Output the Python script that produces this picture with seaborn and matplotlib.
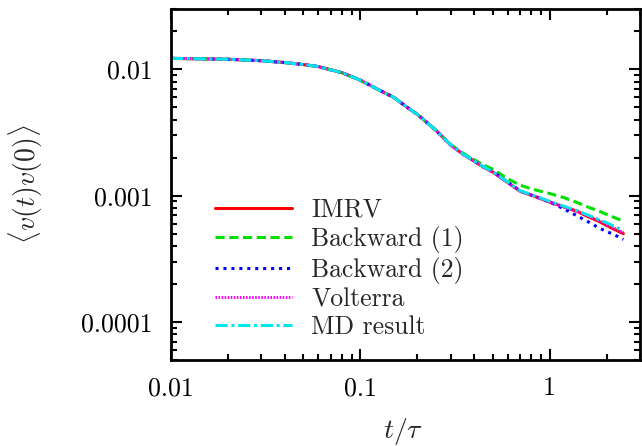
import os
import numpy as np
import pandas as pd
import matplotlib
matplotlib.use("Agg")
import matplotlib.pyplot as plt
import matplotlib.ticker as mticker
from matplotlib.font_manager import FontProperties
import seaborn as sns

# ---- data ----
t = [0.01, 0.015, 0.02, 0.03, 0.04, 0.05, 0.06, 0.08, 0.1, 0.12, 0.15, 0.18,
     0.2, 0.25, 0.3, 0.35, 0.4, 0.45, 0.5, 0.6, 0.7, 0.8, 1.0, 1.2, 1.4, 1.6,
     1.8, 2.0, 2.2, 2.45]
md = [0.0122, 0.0121, 0.0120, 0.0117, 0.0113, 0.0109, 0.0105, 0.0094, 0.0082,
      0.0071, 0.0060, 0.0049, 0.0044, 0.0033, 0.00252, 0.00213, 0.00188,
      0.00168, 0.00155, 0.00128, 0.00109, 0.00102, 0.00090, 0.00082, 0.00076,
      0.00070, 0.00065, 0.00061, 0.00057, 0.00053]
imrv = [0.0122, 0.0121, 0.0120, 0.0117, 0.0113, 0.0109, 0.0105, 0.0094, 0.0082,
        0.0071, 0.0060, 0.0049, 0.0044, 0.0033, 0.00251, 0.00212, 0.00187,
        0.00167, 0.00154, 0.00127, 0.00108, 0.00101, 0.00089, 0.00081, 0.00075,
        0.00068, 0.00063, 0.00058, 0.00054, 0.00050]
backward1 = [0.0122, 0.0121, 0.0120, 0.0117, 0.0113, 0.0109, 0.0105, 0.0094,
             0.0082, 0.0071, 0.0060, 0.0049, 0.0044, 0.0033, 0.00253, 0.00216,
             0.00192, 0.00174, 0.00162, 0.00136, 0.00121, 0.00113, 0.00104,
             0.00096, 0.00088, 0.00081, 0.00076, 0.00071, 0.00067, 0.00063]
backward2 = [0.0122, 0.0121, 0.0120, 0.0117, 0.0113, 0.0109, 0.0105, 0.0094,
             0.0082, 0.0071, 0.0060, 0.0049, 0.0044, 0.0033, 0.00252, 0.00213,
             0.00188, 0.00168, 0.00155, 0.00128, 0.00109, 0.00101, 0.00089,
             0.00078, 0.00069, 0.00062, 0.00056, 0.00052, 0.00049, 0.00045]
volterra = [0.0122, 0.0121, 0.0120, 0.0117, 0.0113, 0.0109, 0.0105, 0.0094,
            0.0082, 0.0071, 0.0060, 0.0049, 0.0044, 0.0033, 0.00251, 0.00212,
            0.00187, 0.00167, 0.00154, 0.00127, 0.00108, 0.00101, 0.00089,
            0.00081, 0.00075, 0.00069, 0.00064, 0.00059, 0.00055, 0.00051]
labels = ["IMRV", "Backward (1)", "Backward (2)", "Volterra", "MD result"]
xticks = [0.01, 0.1, 1]
xticklabels = ["0.01", "0.1", "1"]
yticks = [0.0001, 0.001, 0.01]
yticklabels = ["0.0001", "0.001", "0.01"]

sns.set_theme(style="ticks")
plt.rcParams["font.family"] = ["DejaVu Serif"]
plt.rcParams["mathtext.fontset"] = "cm"

cm_path = os.path.join(matplotlib.get_data_path(), "fonts", "ttf", "cmr10.ttf")
tick_fp = FontProperties(fname=cm_path, size=18.7)
leg_fp = FontProperties(fname=cm_path, size=18.5)

fig = plt.figure(figsize=(6.42, 4.46), dpi=100)
ax = fig.add_axes([0.2664, 0.1928, 0.7305, 0.787])

series = [imrv, backward1, backward2, volterra, md]
colors = ["#ff0000", "#00e000", "#0000ff", "#ff00ff", "#00e5ee"]
styles = ["-", (0, (3, 1.5)), (0, (1, 1.6)), (0, (0.5, 0.5)), (0, (4, 1.2, 1, 1.2))]
for lab, ys, c, ls in zip(labels, series, colors, styles):
    df = pd.DataFrame({"t": t, "v": ys})
    sns.lineplot(data=df, x="t", y="v", ax=ax, color=c, lw=2.2,
                 linestyle=ls, label=lab)

ax.set_xscale("log")
ax.set_yscale("log")
ax.set_xlim(0.01, 3.0)
ax.set_ylim(5e-5, 0.03)
ax.xaxis.set_major_locator(mticker.FixedLocator(xticks))
ax.yaxis.set_major_locator(mticker.FixedLocator(yticks))
ax.set_xticklabels(xticklabels, fontproperties=tick_fp)
ax.set_yticklabels(yticklabels, fontproperties=tick_fp)
ax.xaxis.set_minor_locator(mticker.LogLocator(base=10, subs=np.arange(2, 10)))
ax.yaxis.set_minor_locator(mticker.LogLocator(base=10, subs=np.arange(2, 10)))
ax.xaxis.set_minor_formatter(mticker.NullFormatter())
ax.yaxis.set_minor_formatter(mticker.NullFormatter())
ax.tick_params(which="both", direction="in", top=True, right=True,
               width=1.5, colors="black")
ax.tick_params(axis="y", which="major", length=8, pad=13)
ax.tick_params(axis="x", which="major", length=8, pad=12)
ax.tick_params(which="minor", length=4.5)
for s in ax.spines.values():
    s.set_linewidth(2)
    s.set_color("black")

ax.set_xlabel(r"$t/\tau$", fontsize=20)
ax.set_ylabel(r"$\langle v(t)v(0)\rangle$", fontsize=20)
ax.yaxis.set_label_coords(-0.268, 0.5)
ax.xaxis.set_label_coords(0.495, -0.16)

leg = ax.legend(loc="lower left", bbox_to_anchor=(0.055, 0.009), frameon=False,
                prop=leg_fp, handlelength=3.0, labelspacing=0.15,
                handletextpad=0.75, borderpad=0.2)

fig.savefig("out.png", dpi=100)
